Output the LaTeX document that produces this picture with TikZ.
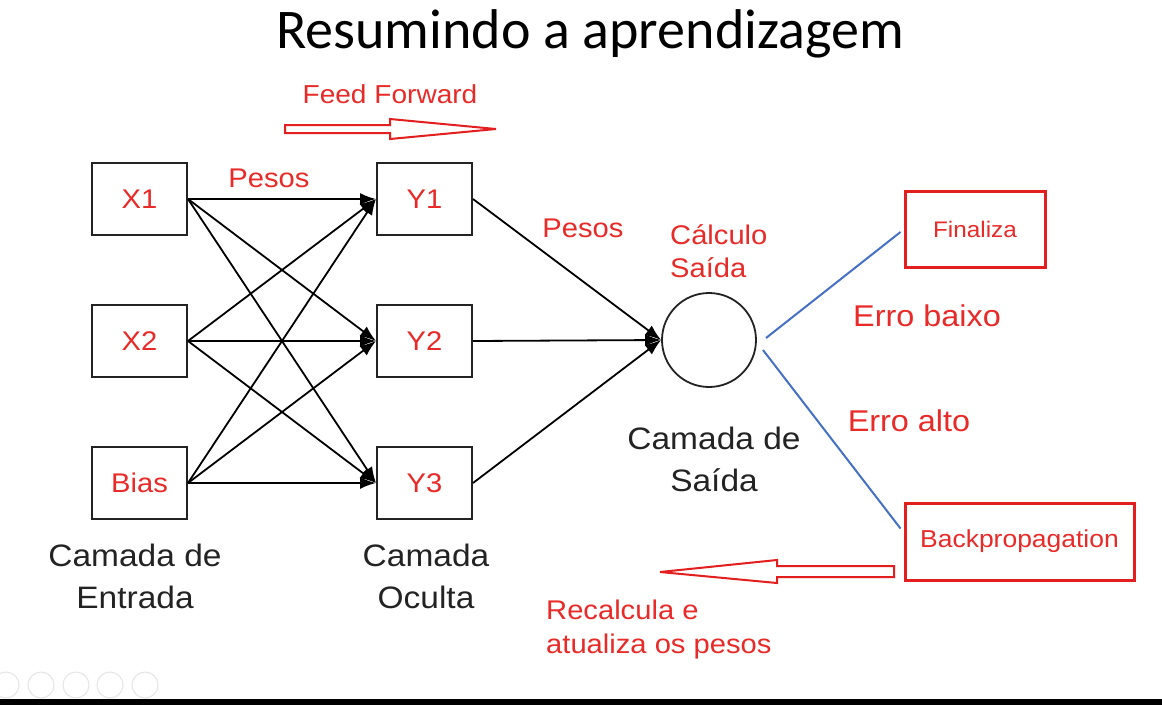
\documentclass[tikz,border=0pt]{standalone}
\usepackage{fontspec}
\setmainfont{Liberation Sans}[FakeStretch=1.08]
\newfontfamily\titlefont{Carlito}
\usetikzlibrary{arrows.meta}
\definecolor{txtred}{RGB}{232,42,40}
\definecolor{boxred}{RGB}{226,30,30}
\definecolor{lineblue}{RGB}{70,112,196}
\definecolor{inkgray}{RGB}{35,35,35}
\tikzset{
  nbox/.style={draw=inkgray, line width=2pt, minimum width=95pt, minimum height=72pt, inner sep=0pt, text=txtred, font=\fontsize{27}{34}\selectfont},
  rbox/.style={draw=boxred, line width=3pt, inner sep=0pt, text=txtred, font=\fontsize{24}{30}\selectfont},
  conn/.style={draw=black, line width=1.8pt, -{Latex[length=16pt,width=12pt]}},
  blueline/.style={draw=lineblue, line width=2pt},
  redtxt/.style={text=txtred, font=\fontsize{28}{34}\selectfont, inner sep=0pt},
  blacktxt/.style={text=inkgray, font=\fontsize{31}{42}\selectfont, align=center, inner sep=0pt},
  hollowarrow/.style={draw=boxred, line width=2pt, fill=white, line join=miter},
  uicircle/.style={draw=black!10, line width=1pt}
}
\begin{document}
\begin{tikzpicture}[x=1pt,y=-1pt]
\useasboundingbox (0,0) rectangle (1162,705);
\fill[white] (0,0) rectangle (1162,705);

% title
\node[text=black, font=\titlefont\fontsize{56}{60}\selectfont, inner sep=0pt] (title) at (590,34) {Resumindo a aprendizagem};

% feed forward
\node[redtxt, font=\fontsize{26}{30}\selectfont] (ff) at (390,94) {Feed Forward};
\draw[hollowarrow] (285,125) -- (390,125) -- (390,119) -- (496,129) -- (390,139) -- (390,133) -- (285,133) -- cycle;

% input layer
\node[nbox] (x1) at (139.5,199) {X1};
\node[nbox] (x2) at (139.5,341) {X2};
\node[nbox, font=\fontsize{27}{30}\selectfont] (bias) at (139.5,483) {Bias};

% hidden layer
\node[nbox] (y1) at (424.5,199) {Y1};
\node[nbox] (y2) at (424.5,341) {Y2};
\node[nbox] (y3) at (424.5,483) {Y3};

% output
\node[draw=inkgray, circle, line width=1.8pt, minimum size=94pt, inner sep=0pt] (out) at (709,340) {};

% connections input -> hidden
\foreach \s in {x1,x2,bias}{
  \foreach \t in {y1,y2,y3}{
    \draw[conn] (\s.east) -- (\t.west);
  }
}
% hidden -> output
\foreach \s in {y1,y2,y3}{
  \draw[conn] (\s.east) -- (out.west);
}

% labels
\node[redtxt, font=\fontsize{27}{34}\selectfont] (p1) at (269,178) {Pesos};
\node[redtxt, font=\fontsize{27}{34}\selectfont] (p2) at (583,228) {Pesos};
\node[redtxt, align=left, anchor=north west, font=\fontsize{27}{33}\selectfont] (calc) at (670,224) {Cálculo\\Saída};

\node[blacktxt] (ent) at (135,576) {Camada de\\Entrada};
\node[blacktxt] (oc) at (426,576) {Camada\\Oculta};
\node[blacktxt] (sai) at (714,459) {Camada de\\Saída};

% decision boxes
\node[rbox, minimum width=140pt, minimum height=76pt, font=\fontsize{22.5}{28}\selectfont] (fin) at (975,229) {Finaliza};
\node[rbox, minimum width=229pt, minimum height=77pt, font=\fontsize{24.5}{30}\selectfont] (back) at (1019.5,541.5) {Backpropagation};

\coordinate (o1) at (766,338);
\coordinate (o2) at (763,350);
\draw[blueline] (o1) -- ([xshift=-3pt,yshift=-3pt]fin.west);
\draw[blueline] (o2) -- ([xshift=-3pt,yshift=13pt]back.west);

\node[redtxt, font=\fontsize{30}{36}\selectfont] (eb) at (927,316) {Erro baixo};
\node[redtxt, font=\fontsize{30}{36}\selectfont] (ea) at (909,421) {Erro alto};

% backprop arrow
\draw[hollowarrow] (894,566) -- (777,566) -- (777,560) -- (660,572) -- (777,583) -- (777,577) -- (894,577) -- cycle;
\node[redtxt, align=left, anchor=north west, font=\fontsize{27}{34}\selectfont] (rec) at (546,600) {Recalcula e\\atualiza os pesos};

% faint UI
\foreach \cx in {6,41,76,110,145}{
  \draw[uicircle] (\cx,685) circle (13);
}
\fill[black] (0,699) rectangle (1162,705);
\end{tikzpicture}
\end{document}
